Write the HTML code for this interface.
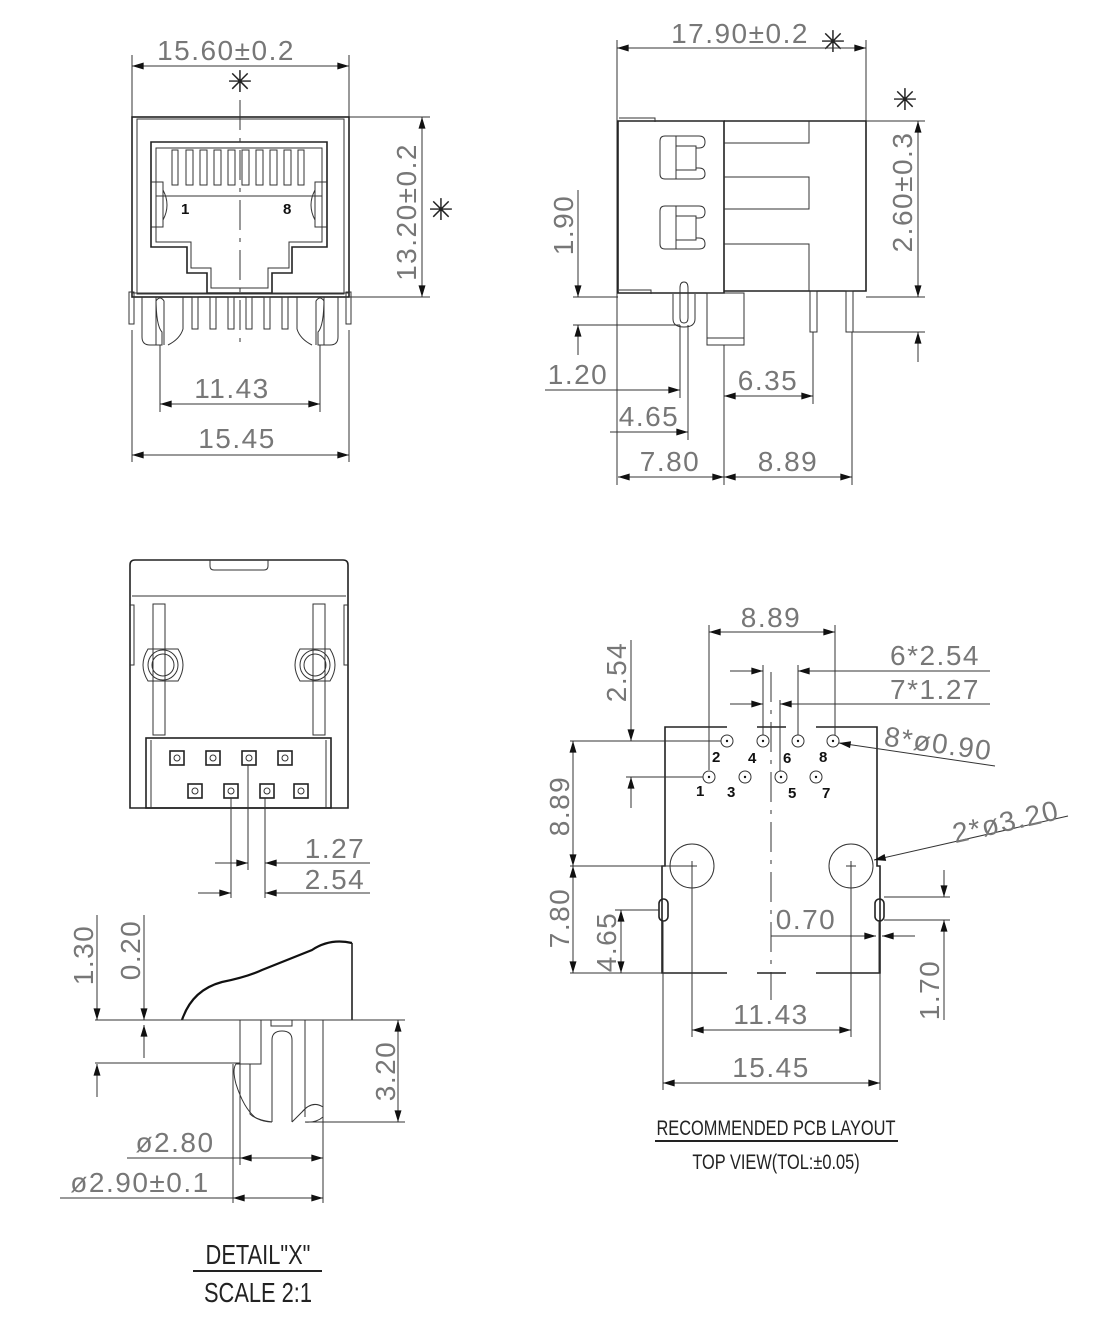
<!DOCTYPE html>
<html><head><meta charset="utf-8"><style>
html,body{margin:0;padding:0;background:#fff;}
svg{display:block;}
.l{stroke:#222;stroke-width:1.6;fill:none;}
.t{stroke:#333;stroke-width:1;fill:none;}
.d{font-family:"Liberation Sans",sans-serif;font-size:28px;fill:#777;letter-spacing:1.5px;}
.n{font-family:"Liberation Sans",sans-serif;font-size:15px;font-weight:bold;fill:#111;}
.c{stroke:#333;stroke-width:1;stroke-dasharray:30,8,4,8;fill:none;}
</style></head><body>
<svg width="1120" height="1318" viewBox="0 0 1120 1318" xmlns="http://www.w3.org/2000/svg">
<defs>
<marker id="a" viewBox="0 0 10 6" refX="10" refY="3" markerWidth="14" markerHeight="7" markerUnits="userSpaceOnUse" orient="auto-start-reverse"><path d="M0,0L10,3L0,6z" fill="#111"/></marker>
</defs>

<!-- VIEW 1 FRONT -->
<g>
<text class="d" x="226" y="60" text-anchor="middle">15.60±0.2</text>
<text x="240" y="92" font-size="30" text-anchor="middle" font-family="DejaVu Sans" fill="#222">✳</text>
<line class="t" x1="132" y1="66" x2="349" y2="66" marker-start="url(#a)" marker-end="url(#a)"/>
<line class="t" x1="132" y1="55" x2="132" y2="120"/><line class="t" x1="349" y1="55" x2="349" y2="120"/>
<rect class="l" x="132" y="117" width="217" height="180"/>
<rect class="t" x="137" y="119" width="207" height="175"/>
<path class="l" d="M151,142H327V247H292V273H272V293H207V273H187V247H151Z"/>
<path class="t" d="M156,148H322V242H289V268H268V288H211V268H191V242H156Z"/>
<g class="t">
<rect x="172" y="150" width="6" height="35"/><rect x="186" y="150" width="7" height="35"/><rect x="200" y="150" width="7" height="35"/><rect x="214" y="150" width="7" height="35"/><rect x="228" y="150" width="7" height="35"/><rect x="242" y="150" width="7" height="35"/><rect x="256" y="150" width="7" height="35"/><rect x="270" y="150" width="7" height="35"/><rect x="284" y="150" width="7" height="35"/><rect x="298" y="150" width="6" height="35"/>
</g>
<line class="t" x1="156" y1="196" x2="322" y2="196"/>
<path class="t" d="M151,182h12v45h-12M327,182h-12v45h12"/>
<path class="t" d="M163,190q8,15 0,30M315,190q-8,15 0,30"/>
<text class="n" x="181" y="214">1</text><text class="n" x="283" y="214">8</text>
<line class="c" x1="240" y1="100" x2="240" y2="345"/>
<line class="t" x1="132" y1="293" x2="349" y2="293"/>
<rect class="t" x="129" y="292" width="5" height="32"/><rect class="t" x="346" y="292" width="5" height="32"/>
<g class="t">
<rect x="192" y="297" width="6" height="32"/><rect x="210" y="297" width="6" height="32"/><rect x="228" y="297" width="6" height="32"/><rect x="246" y="297" width="6" height="32"/><rect x="264" y="297" width="6" height="32"/><rect x="282" y="297" width="6" height="32"/>
<path d="M142,297v40q0,8 8,8h12v-13q-6,-6 -6,-35M183,297v32q-3,10 -15,16"/>
<path d="M156,345v-44q4,-6 8,0v44"/>
<path d="M338,297v40q0,8 -8,8h-12v-13q6,-6 6,-35M297,297v32q3,10 15,16"/>
<path d="M324,345v-44q-4,-6 -8,0v44"/>
</g>
<line class="t" x1="349" y1="117" x2="430" y2="117"/><line class="t" x1="349" y1="297" x2="430" y2="297"/>
<line class="t" x1="422" y1="117" x2="422" y2="297" marker-start="url(#a)" marker-end="url(#a)"/>
<text class="d" transform="translate(416,212) rotate(-90)" text-anchor="middle">13.20±0.2</text>
<text x="441" y="220" font-size="30" text-anchor="middle" font-family="DejaVu Sans" fill="#222">✳</text>
<line class="t" x1="160" y1="345" x2="160" y2="412"/><line class="t" x1="320" y1="345" x2="320" y2="412"/>
<line class="t" x1="160" y1="404" x2="320" y2="404" marker-start="url(#a)" marker-end="url(#a)"/>
<text class="d" x="232" y="398" text-anchor="middle">11.43</text>
<line class="t" x1="132" y1="330" x2="132" y2="462"/><line class="t" x1="349" y1="330" x2="349" y2="462"/>
<line class="t" x1="132" y1="455" x2="349" y2="455" marker-start="url(#a)" marker-end="url(#a)"/>
<text class="d" x="237" y="448" text-anchor="middle">15.45</text>
</g>

<!-- VIEW 2 SIDE -->
<g>
<text class="d" x="740" y="43" text-anchor="middle">17.90±0.2</text>
<text x="833" y="52" font-size="30" text-anchor="middle" font-family="DejaVu Sans" fill="#222">✳</text>
<line class="t" x1="617" y1="48" x2="866" y2="48" marker-start="url(#a)" marker-end="url(#a)"/>
<line class="t" x1="617" y1="40" x2="617" y2="485"/><line class="t" x1="866" y1="40" x2="866" y2="121"/>
<path class="l" d="M618,121H724V293H618Z"/>
<path class="l" d="M724,121H866V291H724"/>
<path class="t" d="M809,121V143H724M724,177H809V209H724M724,244H809V291"/>
<path class="t" d="M619,118h36v4M619,290h32v4"/>
<g class="t">
<path d="M665,136h34q6,0 6,6q0,6 -6,6h-3v20h3q6,0 6,6q0,5 -6,5h-34q-5,0 -5,-5v-33q0,-5 5,-5z"/><path d="M676,136v43M676,146h20v24h-20"/>
<path d="M665,206h34q6,0 6,6q0,6 -6,6h-3v20h3q6,0 6,6q0,5 -6,5h-34q-5,0 -5,-5v-33q0,-5 5,-5z"/><path d="M676,206v43M676,216h20v24h-20"/>
<path d="M680,293v-5q0,-6 4,-6q4,0 4,6v30q0,5 -4,5q-4,0 -4,-5z"/><path d="M673,294v25q0,8 11,8q11,0 11,-8v-25"/>
<rect x="707" y="293" width="37" height="52"/><line x1="707" y1="338" x2="744" y2="338"/>
<rect x="810" y="291" width="7" height="41"/><rect x="846" y="291" width="7" height="41"/>
</g>
<line class="t" x1="866" y1="121" x2="925" y2="121"/><line class="t" x1="866" y1="297" x2="925" y2="297"/>
<line class="t" x1="918" y1="121" x2="918" y2="297" marker-start="url(#a)" marker-end="url(#a)"/>
<text class="d" transform="translate(912,192) rotate(-90)" text-anchor="middle">2.60±0.3</text>
<text x="905" y="110" font-size="30" text-anchor="middle" font-family="DejaVu Sans" fill="#222">✳</text>
<line class="t" x1="852" y1="332" x2="925" y2="332"/>
<line class="t" x1="918" y1="362" x2="918" y2="332" marker-end="url(#a)"/>
<line class="t" x1="573" y1="297" x2="618" y2="297"/><line class="t" x1="573" y1="325" x2="680" y2="325"/>
<line class="t" x1="578" y1="190" x2="578" y2="297" marker-end="url(#a)"/>
<line class="t" x1="578" y1="355" x2="578" y2="325" marker-end="url(#a)"/>
<text class="d" transform="translate(573,225) rotate(-90)" text-anchor="middle">1.90</text>
<line class="t" x1="680" y1="325" x2="680" y2="398"/><line class="t" x1="688" y1="325" x2="688" y2="440"/>
<line class="t" x1="545" y1="390" x2="680" y2="390" marker-end="url(#a)"/>
<text class="d" x="578" y="384" text-anchor="middle">1.20</text>
<line class="t" x1="610" y1="432" x2="688" y2="432" marker-end="url(#a)"/>
<text class="d" x="649" y="426" text-anchor="middle">4.65</text>
<line class="t" x1="724" y1="345" x2="724" y2="485"/><line class="t" x1="813" y1="332" x2="813" y2="404"/><line class="t" x1="852" y1="332" x2="852" y2="485"/>
<line class="t" x1="724" y1="396" x2="813" y2="396" marker-start="url(#a)" marker-end="url(#a)"/>
<text class="d" x="768" y="390" text-anchor="middle">6.35</text>
<line class="t" x1="618" y1="477" x2="724" y2="477" marker-start="url(#a)" marker-end="url(#a)"/>
<line class="t" x1="724" y1="477" x2="852" y2="477" marker-start="url(#a)" marker-end="url(#a)"/>
<text class="d" x="670" y="471" text-anchor="middle">7.80</text>
<text class="d" x="788" y="471" text-anchor="middle">8.89</text>
</g>

<!-- VIEW 3 BOTTOM -->
<g>
<path class="l" d="M130,808V565q0,-5 5,-5H343q5,0 5,5V808Z"/>
<line class="t" x1="132" y1="596" x2="346" y2="596"/>
<path class="t" d="M210,560v6q0,4 4,4h50q4,0 4,-4v-6"/>
<path class="t" d="M130,605h4v60h-4M348,605h-4v60h4"/>
<rect class="t" x="153" y="604" width="12" height="131"/><rect class="t" x="313" y="604" width="12" height="131"/>
<g class="t">
<path d="M148,649h30q10,16 0,32h-30q-10,-16 0,-32z"/><circle cx="163" cy="665" r="15"/><circle cx="163" cy="665" r="11"/>
<path d="M300,649h30q10,16 0,32h-30q-10,-16 0,-32z"/><circle cx="315" cy="665" r="15"/><circle cx="315" cy="665" r="11"/>
</g>
<rect class="l" x="146" y="738" width="185" height="70"/>
<line class="t" x1="151" y1="740" x2="151" y2="808"/><line class="t" x1="326" y1="740" x2="326" y2="808"/>
<g class="l">
<rect x="170" y="751" width="14" height="14"/><rect x="206" y="751" width="14" height="14"/><rect x="242" y="751" width="14" height="14"/><rect x="278" y="751" width="14" height="14"/>
<rect x="188" y="784" width="14" height="14"/><rect x="224" y="784" width="14" height="14"/><rect x="260" y="784" width="14" height="14"/><rect x="294" y="784" width="14" height="14"/>
</g>
<g class="t">
<circle cx="177" cy="758" r="3"/><circle cx="213" cy="758" r="3"/><circle cx="249" cy="758" r="3"/><circle cx="285" cy="758" r="3"/>
<circle cx="195" cy="791" r="3"/><circle cx="231" cy="791" r="3"/><circle cx="267" cy="791" r="3"/><circle cx="301" cy="791" r="3"/>
</g>
<line class="t" x1="231" y1="798" x2="231" y2="898"/><line class="t" x1="248" y1="765" x2="248" y2="870"/><line class="t" x1="265" y1="798" x2="265" y2="898"/>
<line class="t" x1="215" y1="863" x2="248" y2="863" marker-end="url(#a)"/>
<line class="t" x1="370" y1="863" x2="265" y2="863" marker-end="url(#a)"/>
<line class="t" x1="198" y1="893" x2="231" y2="893" marker-end="url(#a)"/>
<line class="t" x1="370" y1="893" x2="265" y2="893" marker-end="url(#a)"/>
<text class="d" x="335" y="858" text-anchor="middle">1.27</text>
<text class="d" x="335" y="889" text-anchor="middle">2.54</text>
</g>

<!-- VIEW 4 DETAIL -->
<g>
<path d="M182,1020q10,-30 40,-38q25,-5 40,-12q30,-12 50,-20q18,-12 40,-7" stroke="#111" stroke-width="2.2" fill="none"/>
<line class="l" x1="352" y1="943" x2="352" y2="1020"/>
<line class="t" x1="95" y1="1020" x2="352" y2="1020"/>
<g class="t">
<path d="M240,1020v44h21v-44"/>
<path d="M240,1064h-4q-4,5 0,20q8,25 20,34q8,4 16,4"/>
<path d="M250,1064v50q6,6 22,8"/>
<path d="M272,1122v-82q0,-9 10,-9q10,0 10,9v82"/>
<rect x="271" y="1020" width="21" height="6"/>
<path d="M305,1020v97M323,1020v97q-7,6 -18,5M292,1122l10,-10q10,-12 21,-5"/>
</g>
<line class="t" x1="97" y1="915" x2="97" y2="1020" marker-end="url(#a)"/>
<line class="t" x1="144" y1="915" x2="144" y2="1020" marker-end="url(#a)"/>
<line class="t" x1="144" y1="1058" x2="144" y2="1025" marker-end="url(#a)"/>
<line class="t" x1="95" y1="1063" x2="240" y2="1063"/>
<line class="t" x1="97" y1="1097" x2="97" y2="1064" marker-end="url(#a)"/>
<text class="d" transform="translate(93,955) rotate(-90)" text-anchor="middle">1.30</text>
<text class="d" transform="translate(140,950) rotate(-90)" text-anchor="middle">0.20</text>
<line class="t" x1="352" y1="1020" x2="405" y2="1020"/><line class="t" x1="305" y1="1122" x2="405" y2="1122"/>
<line class="t" x1="398" y1="1020" x2="398" y2="1122" marker-start="url(#a)" marker-end="url(#a)"/>
<text class="d" transform="translate(395,1071) rotate(-90)" text-anchor="middle">3.20</text>
<line class="t" x1="240" y1="1064" x2="240" y2="1165"/><line class="t" x1="233" y1="1064" x2="233" y2="1203"/><line class="t" x1="323" y1="1117" x2="323" y2="1203"/>
<line class="t" x1="127" y1="1158" x2="323" y2="1158"/>
<line class="t" x1="260" y1="1158" x2="240" y2="1158" marker-end="url(#a)"/>
<line class="t" x1="300" y1="1158" x2="323" y2="1158" marker-end="url(#a)"/>
<line class="t" x1="60" y1="1198" x2="323" y2="1198"/>
<line class="t" x1="255" y1="1198" x2="233" y2="1198" marker-end="url(#a)"/>
<line class="t" x1="300" y1="1198" x2="323" y2="1198" marker-end="url(#a)"/>
<text class="d" x="175" y="1152" text-anchor="middle">ø2.80</text>
<text class="d" x="140" y="1192" text-anchor="middle">ø2.90±0.1</text>
<text x="258" y="1264" font-family="Liberation Sans,sans-serif" font-size="28" fill="#222" text-anchor="middle" transform="translate(258,0) scale(0.78,1) translate(-258,0)">DETAIL"X"</text>
<line x1="193" y1="1271" x2="322" y2="1271" stroke="#222" stroke-width="2"/>
<text x="258" y="1302" font-family="Liberation Sans,sans-serif" font-size="28" fill="#222" text-anchor="middle" transform="translate(258,0) scale(0.78,1) translate(-258,0)">SCALE 2:1</text>
</g>

<!-- VIEW 5 PCB -->
<g>
<path class="l" d="M727,727H665V866H662V973H727M757,727H786M816,727H877V866H880V973H816M757,973H786"/>
<line class="c" x1="771" y1="672" x2="771" y2="1000"/>
<g class="t">
<circle cx="727" cy="741" r="6"/><circle cx="763" cy="741" r="6"/><circle cx="798" cy="741" r="6"/><circle cx="833" cy="741" r="6"/>
<circle cx="709" cy="777" r="6"/><circle cx="745" cy="777" r="6"/><circle cx="781" cy="777" r="6"/><circle cx="816" cy="777" r="6"/>
<circle cx="692" cy="866" r="22"/><circle cx="851" cy="866" r="22"/>
<path d="M687,866h10M692,861v10M846,866h10M851,861v10"/>
</g>
<g fill="#111"><circle cx="727" cy="741" r="1.2"/><circle cx="763" cy="741" r="1.2"/><circle cx="798" cy="741" r="1.2"/><circle cx="833" cy="741" r="1.2"/><circle cx="709" cy="777" r="1.2"/><circle cx="745" cy="777" r="1.2"/><circle cx="781" cy="777" r="1.2"/><circle cx="816" cy="777" r="1.2"/></g>
<rect class="l" x="659" y="899" width="9" height="22" rx="4.5"/><rect class="l" x="875" y="899" width="9" height="22" rx="4.5"/>
<line class="t" x1="663" y1="921" x2="663" y2="973"/><line class="t" x1="879" y1="921" x2="879" y2="973"/>
<g class="n"><text x="712" y="762">2</text><text x="748" y="763">4</text><text x="783" y="763">6</text><text x="819" y="762">8</text><text x="696" y="796">1</text><text x="727" y="797">3</text><text x="788" y="798">5</text><text x="822" y="798">7</text></g>
<line class="t" x1="709" y1="625" x2="709" y2="770"/><line class="t" x1="835" y1="625" x2="835" y2="735"/>
<line class="t" x1="709" y1="632" x2="835" y2="632" marker-start="url(#a)" marker-end="url(#a)"/>
<text class="d" x="771" y="627" text-anchor="middle">8.89</text>
<line class="t" x1="763" y1="665" x2="763" y2="735"/><line class="t" x1="798" y1="665" x2="798" y2="735"/><line class="t" x1="780" y1="700" x2="780" y2="771"/>
<line class="t" x1="730" y1="671" x2="763" y2="671" marker-end="url(#a)"/>
<line class="t" x1="990" y1="671" x2="798" y2="671" marker-end="url(#a)"/>
<line class="t" x1="730" y1="704" x2="763" y2="704" marker-end="url(#a)"/>
<line class="t" x1="990" y1="704" x2="780" y2="704" marker-end="url(#a)"/>
<text class="d" x="935" y="665" text-anchor="middle">6*2.54</text>
<text class="d" x="935" y="699" text-anchor="middle">7*1.27</text>
<line class="t" x1="995" y1="766" x2="839" y2="743" marker-end="url(#a)"/>
<text class="d" transform="translate(937,753) rotate(8)" text-anchor="middle">8*ø0.90</text>
<line class="t" x1="1068" y1="816" x2="874" y2="860" marker-end="url(#a)"/>
<text class="d" transform="translate(1008,831) rotate(-13)" text-anchor="middle">2*ø3.20</text>
<line class="t" x1="570" y1="741" x2="721" y2="741"/><line class="t" x1="626" y1="777" x2="703" y2="777"/>
<line class="t" x1="631" y1="640" x2="631" y2="741" marker-end="url(#a)"/>
<line class="t" x1="631" y1="808" x2="631" y2="777" marker-end="url(#a)"/>
<text class="d" transform="translate(626,672) rotate(-90)" text-anchor="middle">2.54</text>
<line class="t" x1="570" y1="866" x2="690" y2="866"/><line class="t" x1="570" y1="973" x2="662" y2="973"/>
<line class="t" x1="573" y1="741" x2="573" y2="866" marker-start="url(#a)" marker-end="url(#a)"/>
<line class="t" x1="573" y1="866" x2="573" y2="973" marker-start="url(#a)" marker-end="url(#a)"/>
<text class="d" transform="translate(569,806) rotate(-90)" text-anchor="middle">8.89</text>
<text class="d" transform="translate(569,918) rotate(-90)" text-anchor="middle">7.80</text>
<line class="t" x1="615" y1="910" x2="659" y2="910"/>
<line class="t" x1="621" y1="910" x2="621" y2="973" marker-start="url(#a)" marker-end="url(#a)"/>
<text class="d" transform="translate(616,942) rotate(-90)" text-anchor="middle">4.65</text>
<line class="t" x1="771" y1="936" x2="876" y2="936" marker-end="url(#a)"/>
<line class="t" x1="915" y1="936" x2="882" y2="936" marker-end="url(#a)"/>
<text class="d" x="806" y="929" text-anchor="middle">0.70</text>
<line class="t" x1="884" y1="897" x2="950" y2="897"/><line class="t" x1="884" y1="920" x2="950" y2="920"/>
<line class="t" x1="944" y1="870" x2="944" y2="897" marker-end="url(#a)"/>
<line class="t" x1="944" y1="1020" x2="944" y2="920" marker-end="url(#a)"/>
<text class="d" transform="translate(939,990) rotate(-90)" text-anchor="middle">1.70</text>
<line class="t" x1="692" y1="866" x2="692" y2="1037"/><line class="t" x1="851" y1="866" x2="851" y2="1037"/>
<line class="t" x1="692" y1="1030" x2="851" y2="1030" marker-start="url(#a)" marker-end="url(#a)"/>
<text class="d" x="771" y="1024" text-anchor="middle">11.43</text>
<line class="t" x1="663" y1="973" x2="663" y2="1090"/><line class="t" x1="880" y1="973" x2="880" y2="1090"/>
<line class="t" x1="663" y1="1083" x2="880" y2="1083" marker-start="url(#a)" marker-end="url(#a)"/>
<text class="d" x="771" y="1077" text-anchor="middle">15.45</text>
<text x="776" y="1135" font-family="Liberation Sans,sans-serif" font-size="21" fill="#222" text-anchor="middle" transform="translate(776,0) scale(0.78,1) translate(-776,0)">RECOMMENDED PCB LAYOUT</text>
<line x1="655" y1="1141" x2="898" y2="1141" stroke="#222" stroke-width="2"/>
<text x="776" y="1169" font-family="Liberation Sans,sans-serif" font-size="21" fill="#222" text-anchor="middle" transform="translate(776,0) scale(0.78,1) translate(-776,0)">TOP VIEW(TOL:±0.05)</text>
</g>
</svg>
</body></html>
